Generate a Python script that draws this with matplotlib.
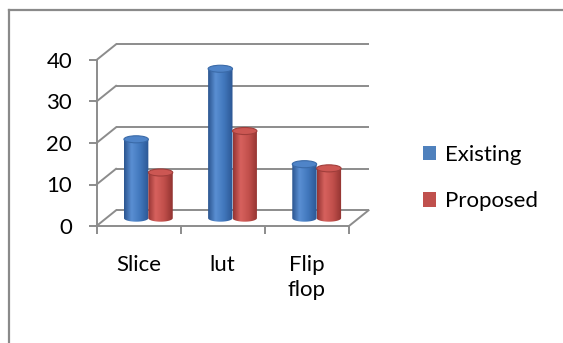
import numpy as np
import matplotlib
matplotlib.use("Agg")
import matplotlib.pyplot as plt
from matplotlib.patches import Ellipse, Polygon, Patch
from matplotlib.lines import Line2D
from matplotlib.colors import LinearSegmentedColormap

plt.rcParams['font.family'] = ['Lato', 'DejaVu Sans']

categories = ["Slice", "lut", "Flip\nflop"]
series_names = ["Existing", "Proposed"]
existing = [19, 36, 13]
proposed = [11, 21, 12]
y_ticks = [0, 10, 20, 30, 40]

series_values = [existing, proposed]
legend_colors = ["#4F81BD", "#C0504D"]
body_stops = [
    ["#2B5590", "#5A8FD3", "#4177BC", "#2C5794"],
    ["#953533", "#D7625E", "#C14F4B", "#913331"],
]
top_fill = ["#4F84C8", "#CC5753"]
top_edge = ["#3A6AA8", "#A03E3B"]

W, H, DPI = 563, 343, 100
fig = plt.figure(figsize=(W / DPI, H / DPI), dpi=DPI)
fig.patch.set_facecolor("white")

# outer chart frame (top and left edges visible)
frame_c = "#8A8A8A"
fig.add_artist(Line2D([9 / W, 1.0], [1 - 10 / H, 1 - 10 / H], color=frame_c, lw=1.6,
                      transform=fig.transFigure))
fig.add_artist(Line2D([9 / W, 9 / W], [1 - 10 / H, 0.0], color=frame_c, lw=1.6,
                      transform=fig.transFigure))

ax = fig.add_axes([96.5 / W, 117 / H, 252.5 / W, 166 / H])
ax.set_xlim(-0.5, 2.5)
ax.set_ylim(0, 40)
ax.patch.set_alpha(0)

grid_c = "#8C8C8C"
dx, dy = 0.232, 3.78      # depth offset of the back wall
x_lo, x_hi = -0.5, 2.5

# back wall gridlines and side wall diagonals
for v in y_ticks:
    ax.plot([x_lo + dx, x_hi + dx], [v + dy, v + dy], color=grid_c, lw=1.4,
            clip_on=False, zorder=1, solid_capstyle="butt")
    ax.plot([x_lo, x_lo + dx], [v, v + dy], color=grid_c, lw=1.4,
            clip_on=False, zorder=1)
# floor right edge
ax.plot([x_hi, x_hi + dx], [0, dy], color=grid_c, lw=1.4, clip_on=False, zorder=1)

# cylinders
bar_w = 0.29
ell_h = 1.7
n = len(series_values)
for si, vals in enumerate(series_values):
    cmap = LinearSegmentedColormap.from_list(
        "c%d" % si, list(zip([0.0, 0.3, 0.65, 1.0], body_stops[si])))
    grad = np.linspace(0, 1, 64)[None, :]
    for ci, v in enumerate(vals):
        xc = ci + (si - (n - 1) / 2) * bar_w + dx / 2
        x0, x1 = xc - bar_w / 2, xc + bar_w / 2
        yb = dy / 2
        yt = v + dy / 2
        ang = np.linspace(np.pi, 2 * np.pi, 40)
        arc = np.column_stack([xc + bar_w / 2 * np.cos(ang),
                               yb + ell_h / 2 * np.sin(ang)])
        pts = np.vstack([[x0, yt], arc, [x1, yt]])
        body = Polygon(pts, closed=True, facecolor="none", edgecolor="none",
                       transform=ax.transData)
        ax.add_patch(body)
        im = ax.imshow(grad, cmap=cmap, extent=[x0, x1, yb - ell_h / 2, yt],
                       aspect="auto", interpolation="bicubic", zorder=2 + si,
                       origin="lower")
        im.set_clip_path(body)
        ax.add_patch(Ellipse((xc, yt), bar_w, ell_h, facecolor=top_fill[si],
                             edgecolor=top_edge[si], lw=0.8, zorder=2.5 + si))

ax.set_xlim(-0.5, 2.5)
ax.set_ylim(0, 40)

# axes styling
for s in ["top", "right"]:
    ax.spines[s].set_visible(False)
for s in ["left", "bottom"]:
    ax.spines[s].set_color(grid_c)
    ax.spines[s].set_linewidth(1.4)
    ax.spines[s].set_zorder(1)

fs = 16
ax.set_yticks(y_ticks)
ax.set_yticklabels([str(t) for t in y_ticks])
ax.tick_params(axis="y", direction="out", length=5.5, width=1.4, color=grid_c,
               pad=12, labelsize=fs, labelcolor="black")

ax.set_xticks(range(len(categories)))
ax.set_xticklabels(categories, linespacing=1.3)
ax.set_xticks([-0.5, 0.5, 1.5, 2.5], minor=True)
ax.tick_params(axis="x", which="major", length=0, pad=21, labelsize=fs,
               labelcolor="black")
ax.tick_params(axis="x", which="minor", direction="out", length=5.5, width=1.4,
               color=grid_c)

handles = [Patch(facecolor=c, edgecolor="none") for c in legend_colors]
fig.legend(handles, series_names, loc="center left",
           bbox_to_anchor=(423 / W, 1 - 178 / H), frameon=False,
           fontsize=fs, handlelength=0.6, handleheight=0.6,
           handletextpad=0.4, labelspacing=1.2, borderpad=0, borderaxespad=0)

fig.savefig("out.png", dpi=DPI)
